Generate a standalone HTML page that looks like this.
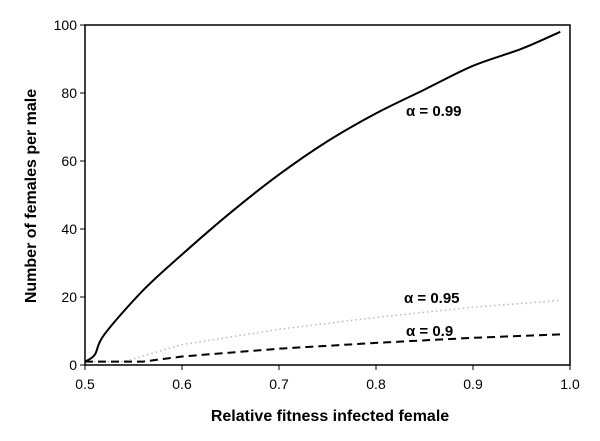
<!DOCTYPE html>
<html><head><meta charset="utf-8"><style>
body{margin:0;background:#fff;}
svg{display:block;font-family:"Liberation Sans",Arial,sans-serif;}
</style></head><body>
<svg id="chart" width="600" height="441">
<g id="axes"></g><g id="series"></g>
</svg>
<script>
const xTicks=[0.5,0.6,0.7,0.8,0.9,1.0];
const yTicks=[0,20,40,60,80,100];
const xs99=[0.5,0.51,0.52,0.56,0.6,0.65,0.7,0.75,0.8,0.85,0.9,0.95,0.99];
const ys99=[1,3,9,22,32.5,44.8,56,65.8,74,81,88,93,98];
const xs95=[0.5,0.54,0.6,0.7,0.8,0.9,0.99];
const ys95=[1,1,6,10.5,14,17,19];
const xs90=[0.5,0.56,0.6,0.7,0.8,0.9,0.99];
const ys90=[1,1,2.5,4.8,6.5,8,9];
const L=85,R=570,T=25,B=365;
const sx=v=>L+(v-0.5)/0.5*(R-L);
const sy=v=>B-v/100*(B-T);
const NS="http://www.w3.org/2000/svg";
const ax=document.getElementById('axes'),se=document.getElementById('series');
function mk(p,tag,at){const e=document.createElementNS(NS,tag);for(const k in at)e.setAttribute(k,at[k]);p.appendChild(e);return e;}
const frame=mk(ax,'rect',{x:L,y:T,width:R-L,height:B-T,fill:'none',stroke:'#000','stroke-width':1.5});


xTicks.forEach(t=>{
 const l=mk(ax,'line',{x1:sx(t),x2:sx(t),y1:B,y2:B+5,stroke:'#000'});
 
 
 const tx=mk(ax,'text',{x:sx(t),y:B+24,'text-anchor':'middle','font-size':14});
 tx.textContent=t.toFixed(1);
 
 
});
yTicks.forEach(t=>{
 const l=mk(ax,'line',{x1:L-5,x2:L,y1:sy(t),y2:sy(t),stroke:'#000'});
 
 
 const tx=mk(ax,'text',{x:L-8,y:sy(t)+5,'text-anchor':'end','font-size':14});
 tx.textContent=t;
 
 
});
const xt=mk(ax,'text',{x:330,y:421,'text-anchor':'middle','font-size':16,'font-weight':'bold'});
xt.textContent='Relative fitness infected female';


const yt=mk(ax,'text',{x:0,y:0,'text-anchor':'middle','font-size':16,'font-weight':'bold',transform:'translate(36,196) rotate(-90)'});
yt.textContent='Number of females per male';


function line(xs,ys,st,name,smooth){
 const P=xs.map((x,i)=>[sx(x),sy(ys[i])]);
 let d='M'+P[0][0].toFixed(1)+','+P[0][1].toFixed(1);
 for(let i=1;i<P.length;i++){
  if(!smooth){d+='L'+P[i][0].toFixed(1)+','+P[i][1].toFixed(1);continue;}
  const p0=P[Math.max(0,i-2)],p1=P[i-1],p2=P[i],p3=P[Math.min(P.length-1,i+1)];
  const c1=[p1[0]+(p2[0]-p0[0])/6,p1[1]+(p2[1]-p0[1])/6];
  const c2=[p2[0]-(p3[0]-p1[0])/6,p2[1]-(p3[1]-p1[1])/6];
  d+='C'+c1.join(',')+' '+c2.join(',')+' '+p2.join(',');
 }
 const p=mk(se,'path',Object.assign({d:d,fill:'none'},st));
 
 
}
line(xs99,ys99,{stroke:'#000','stroke-width':2},'line-alpha-0.99',true);
line(xs95,ys95,{stroke:'#bbb','stroke-width':1.5,'stroke-dasharray':'1.5,3'},'line-alpha-0.95',false);
line(xs90,ys90,{stroke:'#000','stroke-width':2,'stroke-dasharray':'8,5'},'line-alpha-0.9',false);
[['α = 0.99',406,116,'label-alpha-0.99'],['α = 0.95',404,303,'label-alpha-0.95'],['α = 0.9',406,336,'label-alpha-0.9']].forEach(a=>{
 const t=mk(se,'text',{x:a[1],y:a[2],'font-size':15,'font-weight':'bold'});
 t.textContent=a[0];
 
 
});
</script>
</body></html>
